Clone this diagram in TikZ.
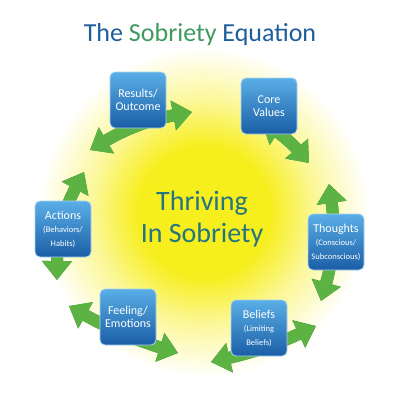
\documentclass[tikz,border=0pt]{standalone}
\usepackage{fontspec}
\setmainfont{Carlito}
\usetikzlibrary{arrows.meta}

\definecolor{titleblue}{HTML}{1F5E9C}
\definecolor{titlegreen}{HTML}{3E9A5E}
\definecolor{centerteal}{HTML}{23757E}
\definecolor{sunyellow}{HTML}{F7EE1E}
\definecolor{boxtop}{HTML}{5AAEE6}
\definecolor{boxbottom}{HTML}{1A5EA6}
\definecolor{boxedge}{HTML}{A9D3F2}
\definecolor{arrowgreen}{HTML}{5CB343}
\definecolor{arrowdark}{HTML}{2E7A22}

\pgfdeclareradialshading{sunglow}{\pgfpoint{0bp}{0bp}}{color(0bp)=(sunyellow); color(10bp)=(sunyellow); color(17bp)=(sunyellow!45); color(25bp)=(white); color(50bp)=(white)}

\newcommand{\smallnote}[1]{{\fontsize{8.5}{9.5}\selectfont #1}}

\tikzset{
  stage/.style={draw=boxedge, line width=0.8pt, rounded corners=5pt,
    minimum width=56pt, minimum height=56pt, inner sep=1pt,
    top color=boxtop, bottom color=boxbottom, text=white, align=center,
    font=\fontsize{12}{13.5}\selectfont},
  cycle/.style={line width=12pt, arrowgreen,
    {Triangle[width=29pt,length=19pt]}-{Triangle[width=29pt,length=19pt]}},
  cycleshade/.style={cycle, arrowdark, yshift=-3pt}
}

\begin{document}
\begin{tikzpicture}[x=1pt,y=1pt]
    \useasboundingbox (0,0) rectangle (400,-400);
    \fill[white] (0,0) rectangle (400,-400);

    % sun
    \begin{scope}
        \clip (0,0) rectangle (400,-400);
        \shade[shading=sunglow] (204,-212) circle [radius=165];
    \end{scope}

    % title
    \node (title) at (200,-35) {\fontsize{26}{30}\selectfont\color{titleblue}The \textcolor{titlegreen}{Sobriety} Equation};

    % arrow ends
    \coordinate (actA) at (57,-280);  \coordinate (actB) at (84,-172);
    \coordinate (resA) at (90,-150);  \coordinate (resB) at (192,-112);
    \coordinate (corA) at (262,-122); \coordinate (corB) at (309,-163);
    \coordinate (thoA) at (329,-184); \coordinate (thoB) at (321,-301);
    \coordinate (belA) at (316,-326); \coordinate (belB) at (211,-362);
    \coordinate (feeA) at (178,-353); \coordinate (feeB) at (69,-306);

    % arrows
    \foreach \a/\bend in {act/14, res/10, cor/8, tho/12, bel/6, fee/6} {
        \draw[cycleshade] (\a A) to[bend left=\bend] (\a B);
        \draw[cycle] (\a A) to[bend left=\bend] (\a B);
    }

    % center text
    \node[text=centerteal, align=center, font=\fontsize{28}{32}\selectfont] (center) at (202,-219) {Thriving\\In Sobriety};

    % stages
    \node[stage] (results) at (138,-100) {Results/\\Outcome};
    \node[stage] (values) at (269,-106) {Core\\Values};
    \node[stage] (thoughts) at (336,-242) {Thoughts\\\smallnote{(Conscious/}\\\smallnote{Subconscious)}};
    \node[stage] (beliefs) at (259,-328) {Beliefs\\\smallnote{(Limiting}\\\smallnote{Beliefs)}};
    \node[stage] (feeling) at (128,-317) {Feeling/\\Emotions};
    \node[stage] (actions) at (63,-229) {Actions\\\smallnote{(Behaviors/}\\\smallnote{Habits)}};
\end{tikzpicture}
\end{document}
